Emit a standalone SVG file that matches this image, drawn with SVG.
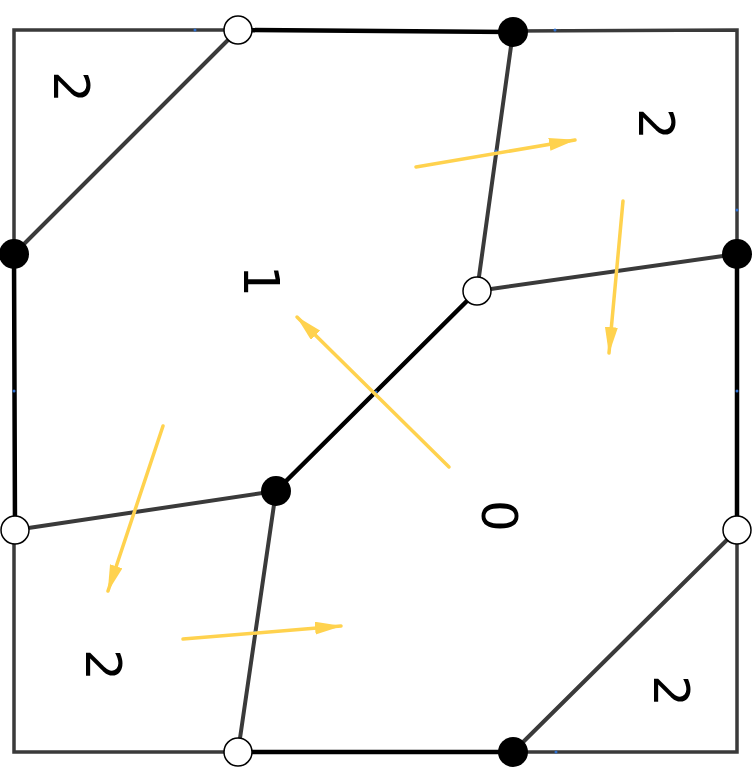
<svg xmlns="http://www.w3.org/2000/svg" width="756" height="784" viewBox="0 0 756 784">
<style>
.g{stroke:#3a3a3a;stroke-width:4;fill:none;stroke-linecap:round}
.k{stroke:#000;stroke-width:4.5;fill:none;stroke-linecap:round}
.f{stroke:#3a3a3a;stroke-width:3.5;fill:none;stroke-linecap:square}
.a{stroke:#FFD24E;stroke-width:3.5;fill:none;stroke-linecap:round}
.w{fill:#fff;stroke:#000;stroke-width:1.5}
.b{fill:#000}
.d{fill:#2d6fd0}
.t{font-family:"DejaVu Sans",sans-serif;font-size:50px;fill:#000}
</style>
<defs>
<marker id="ah" markerUnits="userSpaceOnUse" markerWidth="28" markerHeight="14" refX="26" refY="6.5" orient="auto">
<path d="M0,0 L27,6.5 L0,13 Z" fill="#FFD24E"/>
</marker>
</defs>
<rect width="756" height="784" fill="#fff"/>
<g id="connectors">
<path class="f" d="M238,30 L14,30 L14,254"/>
<path class="f" d="M513,31 L737,30 L737,254"/>
<path class="f" d="M14,530 L14,752 L238,752"/>
<path class="f" d="M737,530 L737,752 L513,752"/>
<path class="k" d="M238,30 L513,32"/>
<path class="k" d="M14,254 L15,530"/>
<path class="k" d="M737,254 L737,530"/>
<path class="k" d="M238,752 L513,752"/>
<path class="g" d="M238,30 L14,254"/>
<path class="g" d="M513,32 L477,291"/>
<path class="g" d="M477,291 L737,254"/>
<path class="k" d="M477,291 L276,491"/>
<path class="g" d="M276,491 L15,530"/>
<path class="g" d="M276,491 L238,752"/>
<path class="g" d="M737,530 L513,752"/>
</g>
<g id="markers">
<circle class="d" cx="195" cy="30" r="1.5"/>
<circle class="d" cx="555" cy="30" r="1.5"/>
<circle class="d" cx="14" cy="391" r="1.5"/>
<circle class="d" cx="737" cy="391" r="1.5"/>
<circle class="d" cx="737" cy="210" r="1.5"/>
<circle class="d" cx="556" cy="752" r="1.5"/>
<circle class="d" cx="496" cy="151" r="1.5"/>
<circle class="d" cx="617" cy="271" r="1.5"/>
<circle class="d" cx="376" cy="392" r="1.5"/>
<circle class="d" cx="135" cy="512" r="1.5"/>
<circle class="d" cx="255" cy="632" r="1.5"/>
</g>
<g id="arrows">
<path class="a" d="M416,167 L575,140" marker-end="url(#ah)"/>
<path class="a" d="M623,201 L609,353" marker-end="url(#ah)"/>
<path class="a" d="M449,467 L297,317" marker-end="url(#ah)"/>
<path class="a" d="M163,426 L108,591" marker-end="url(#ah)"/>
<path class="a" d="M183,639 L341,626" marker-end="url(#ah)"/>
</g>
<g id="node-top-white"><circle class="w" cx="238" cy="30" r="14"/></g>
<g id="node-top-black"><circle class="b" cx="513" cy="32" r="15"/></g>
<g id="node-left-black"><circle class="b" cx="14" cy="254" r="15"/></g>
<g id="node-center-white"><circle class="w" cx="477" cy="291" r="14"/></g>
<g id="node-right-black"><circle class="b" cx="737" cy="254" r="15"/></g>
<g id="node-center-black"><circle class="b" cx="276" cy="491" r="15"/></g>
<g id="node-left-white"><circle class="w" cx="15" cy="530" r="14"/></g>
<g id="node-bottom-white"><circle class="w" cx="238" cy="752" r="14"/></g>
<g id="node-right-white"><circle class="w" cx="737" cy="530" r="14"/></g>
<g id="node-bottom-black"><circle class="b" cx="513" cy="752" r="15"/></g>
<g id="labels">
<text class="t" transform="translate(72,87) rotate(90)" y="18" text-anchor="middle">2</text>
<text class="t" transform="translate(657,124) rotate(90)" y="18" text-anchor="middle">2</text>
<text class="t" transform="translate(262,281) rotate(90)" y="18" text-anchor="middle">1</text>
<text class="t" transform="translate(500,516) rotate(90)" y="18" text-anchor="middle">0</text>
<text class="t" transform="translate(104,665) rotate(90)" y="18" text-anchor="middle">2</text>
<text class="t" transform="translate(672,691) rotate(90)" y="18" text-anchor="middle">2</text>
</g>
</svg>
